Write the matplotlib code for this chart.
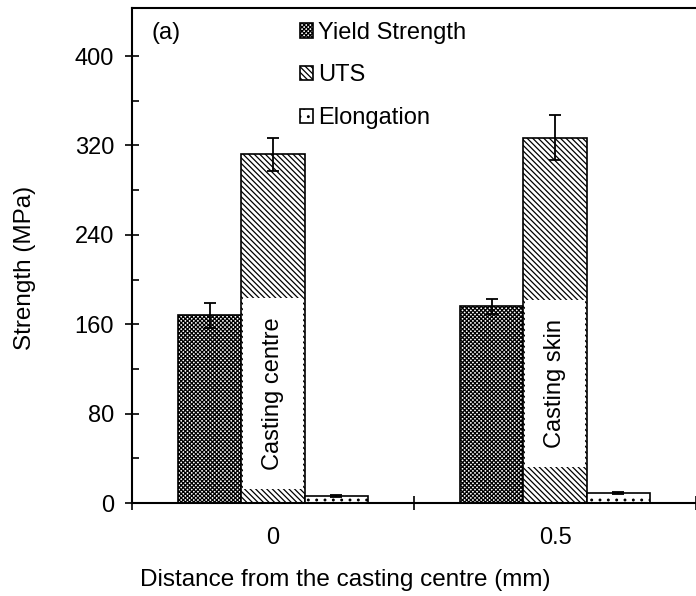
import numpy as np
import matplotlib.pyplot as plt

plt.rcParams['font.family'] = ['Liberation Sans', 'DejaVu Sans']
plt.rcParams['hatch.linewidth'] = 0.9

# data
positions = ['0', '0.5']
yield_strength = [168, 176]
yield_err = [11, 7]
uts = [312, 327]
uts_err = [15, 20]
elongation = [6, 9]
elong_err = [1, 1]
region_labels = ['Casting centre', 'Casting skin']
region_label_y = [98, 107]


def main():
    fig = plt.figure(figsize=(6.96, 5.96), dpi=100)
    ax = fig.add_axes([0.1897, 0.156, 0.8103, 0.8305])

    x = np.arange(len(positions))
    w = 0.225
    err_kw = dict(ecolor='black', capsize=4.5, elinewidth=1.3, capthick=1.3)

    ax.bar(x - w, yield_strength, w, yerr=yield_err, color='white',
           edgecolor='black', linewidth=1.2, hatch='xxxxxxxx',
           label='Yield Strength', error_kw=err_kw)
    ax.bar(x, uts, w, yerr=uts_err, color='white', edgecolor='black',
           linewidth=1.2, hatch='\\\\\\\\\\\\', label='UTS', error_kw=err_kw)
    ax.bar(x + w, elongation, w, yerr=elong_err, color='white',
           edgecolor='black', linewidth=1.2, hatch='..',
           label='Elongation', error_kw=err_kw)

    # white boxes with the region names inside the UTS bars
    for xi, lab, ly in zip(x, region_labels, region_label_y):
        ax.text(xi, ly, lab, rotation=90, ha='center', va='center',
                fontsize=17,
                bbox=dict(boxstyle='square,pad=0.8', facecolor='white',
                          edgecolor='none'))

    ax.set_xlim(-0.5, 1.5)
    ax.set_ylim(0, 443)
    ax.set_xticks(x)
    ax.set_xticklabels(positions)
    ax.set_xticks([-0.5, 0.5, 1.5], minor=True)
    ax.tick_params(axis='x', which='major', length=0, pad=17, labelsize=17)
    ax.tick_params(axis='x', which='minor', direction='inout', length=10,
                   width=1.2)
    ax.set_yticks(np.arange(0, 401, 80))
    ax.set_yticks(np.arange(40, 401, 80), minor=True)
    ax.tick_params(axis='y', which='major', direction='inout', length=10,
                   width=1.2, labelsize=17, pad=8)
    ax.tick_params(axis='y', which='minor', direction='in', length=5,
                   width=1.2)

    ax.spines['right'].set_visible(False)
    for s in ['left', 'bottom', 'top']:
        ax.spines[s].set_linewidth(1.5)

    ax.set_xlabel('Distance from the casting centre (mm)', fontsize=17.5)
    ax.set_ylabel('Strength (MPa)', fontsize=17.5)
    ax.xaxis.set_label_coords(0.378, -0.133)
    ax.yaxis.set_label_coords(-0.171, 0.475)

    ax.text(0.034, 0.95, '(a)', transform=ax.transAxes, fontsize=17,
            va='center', ha='left')

    ax.legend(loc='upper left', bbox_to_anchor=(0.298, 0.972), frameon=False,
              fontsize=17, handlelength=0.55, handleheight=0.55,
              handletextpad=0.2, labelspacing=0.87, borderaxespad=0,
              borderpad=0)

    fig.savefig('out.png', dpi=100)


if __name__ == "__main__":
    main()
